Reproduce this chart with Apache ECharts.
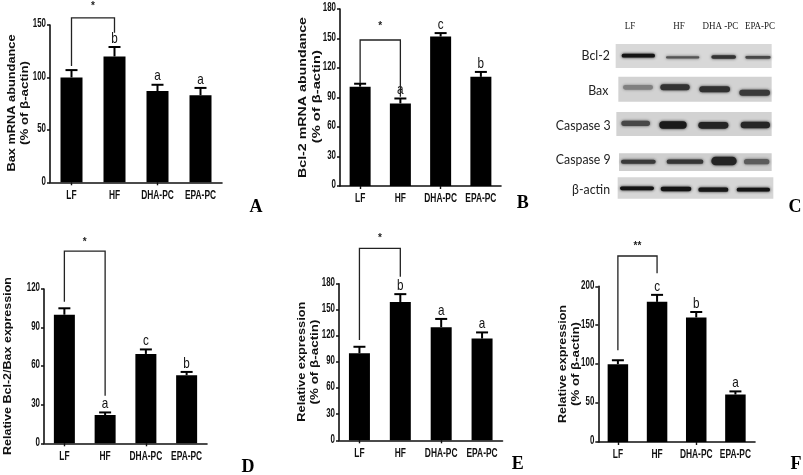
<!DOCTYPE html>
<html><head><meta charset="utf-8">
<script src="https://cdn.jsdelivr.net/npm/echarts@6/dist/echarts.min.js"></script>
<style>html,body{margin:0;padding:0;background:#fff}#c{width:803px;height:475px;filter:blur(0.6px)}</style>
</head><body><div id="c"></div>
<script>
var categories = ['LF','HF','DHA-PC','EPA-PC'];

var aValues = [100,120,87,83];
var aErrTop = [107,129,93,90];
var aLetters = ['','b','a','a'];
var bValues = [101,84,152,111];
var bErrTop = [104,89,155.5,116];
var bLetters = ['','a','c','b'];
var dValues = [100,22,69.5,53];
var dErrTop = [105,24,73,55.5];
var dLetters = ['','a','c','b'];
var eValues = [100,159,130,117];
var eErrTop = [107.5,168,139.5,124];
var eLetters = ['','b','a','a'];
var fValues = [100,180,160,61];
var fErrTop = [105,189,167,65];
var fLetters = ['','c','b','a'];

var aTicks = [0,50,100,150];
var bTicks = [0,30,60,90,120,150,180];
var dTicks = [0,30,60,90,120];
var eTicks = [0,30,60,90,120,150,180];
var fTicks = [0,50,100,150,200];

/* bracket: left end, top, right end, star height, star text */
var aBracket = [111,156.7,142.7,167.5,'*'];
var bBracket = [104.7,148.5,90.8,162.7,'*'];
var dBracket = [110,149.5,37,156,'*'];
var eBracket = [115.2,220.6,188,232.8,'*'];
var fBracket = [118,238.9,216.7,252,'**'];

/* y titles: text, x, centre y, length */
var yTitles = [
 ['Bax mRNA abundance',12,103,137],['(% of β-actin)',25,103,84],
 ['Bcl-2 mRNA abundance',303,97.5,161],['(% of β-actin)',316.7,96.7,93],
 ['Relative Bcl-2/Bax expression',8,366,178],
 ['Relative expression',301.7,361.7,120],['(% of β-actin)',315,362,85],
 ['Relative expression',563,364,118],['(% of β-actin)',575.7,364,84]
];

/* western blot: picture read in 789x675 units */
var blotLanes = ['LF','HF','DHA -PC','EPA-PC'];
var blotLaneX = [270,417,541,660];
var blotRows = ['Bcl-2','Bax','Caspase 3','Caspase 9','β-actin'];
var blotRowLabelX = [210,205,212,212,210];
var blotRowLabelY = [167,270,375,477,567];
/* x1,x2,y1,y2,grey */
var blotPanels = [
 [227,695,132,204,'#d8d8d8'],
 [235,695,230,305,'#d2d2d2'],
 [229,695,336,408,'#d2d2d2'],
 [237,695,460,513,'#cecece'],
 [233,700,532,596,'#d6d6d6']
];
/* centre x, centre y, width, thickness, colour */
var blotBands = [
 [295,167,100,11,'#141414'],[428,172,100,7,'#555555'],[551,171,74,11,'#333333'],[654,172,76,8,'#484848'],
 [294,262,90,14,'#808080'],[405,262,88,18,'#333333'],[524,268,92,18,'#303030'],[644,278,92,18,'#3a3a3a'],
 [287,370,86,16,'#484848'],[399,375,82,22,'#1a1a1a'],[520,376,90,20,'#242424'],[646,375,88,20,'#262626'],
 [295,485,104,12,'#383838'],[435,485,110,13,'#363636'],[552,483,76,26,'#242424'],[650,485,76,16,'#5c5c5c'],
 [291,565,102,11,'#141414'],[408,567,92,13,'#141414'],[520,569,90,13,'#181818'],[640,569,100,11,'#141414']
];

/* panel letters in 803x475 picture */
var panelLetters = [['A',256,207],['B',522.7,203],['C',795,207],['D',248,467],['E',517.7,464],['F',796,464]];

var SANS = '"Liberation Sans",Arial,sans-serif';
var TITLE_FONT = 'bold 10.5px '+SANS;
var grids=[],xAxes=[],yAxes=[],series=[];

function txt(x,y,text,font,scale,align,vAlign,fill){
  return {type:'text',x:x,y:y,scaleX:scale,
    style:{text:text,x:0,y:0,align:align,verticalAlign:vAlign,font:font,fill:fill||'#111'}};
}

function panel(box,values,errTop,letters,ticks,bracket,barW){
  var i=grids.length;
  var maxV=ticks[ticks.length-1];
  grids.push({left:box[0],top:box[1],width:box[2],height:box[3],containLabel:false});
  xAxes.push({type:'category',gridIndex:i,data:categories,
    axisLine:{show:true,lineStyle:{color:'#111',width:1.6}},
    axisTick:{show:true,alignWithLabel:true,length:3,lineStyle:{color:'#111',width:1.4}},
    axisLabel:{show:false}});
  yAxes.push({type:'value',gridIndex:i,min:0,max:maxV,interval:ticks[1],splitLine:{show:false},
    axisLine:{show:true,lineStyle:{color:'#111',width:1.6}},
    axisTick:{show:true,length:3,lineStyle:{color:'#111',width:1.5}},
    axisLabel:{show:false}});
  series.push({type:'bar',xAxisIndex:i,yAxisIndex:i,data:values,barWidth:barW,
    itemStyle:{color:'#000'},silent:true});
  /* condensed category labels */
  series.push({type:'custom',xAxisIndex:i,yAxisIndex:i,silent:true,clip:false,
    data:categories.map(function(c,k){return [k,0];}),
    renderItem:function(p,api){
      var k=api.value(0),c=api.coord([k,0]);
      return txt(c[0],c[1]+13,categories[k],'bold 12px '+SANS,0.7,'center','middle');
    }});
  /* condensed tick labels */
  series.push({type:'custom',xAxisIndex:i,yAxisIndex:i,silent:true,clip:false,
    data:ticks.map(function(t){return [0,t];}),
    renderItem:function(p,api){
      var t=api.value(1),c=api.coord([0,t]);
      return txt(p.coordSys.x-4,c[1]-1,String(t),'bold 12px '+SANS,0.66,'right','middle');
    }});
  /* error bars and letters */
  series.push({type:'custom',xAxisIndex:i,yAxisIndex:i,silent:true,clip:false,
    data:values.map(function(v,k){return [k,v,errTop[k]];}),
    renderItem:function(p,api){
      var k=api.value(0),lo=api.coord([k,api.value(1)]),hi=api.coord([k,api.value(2)]);
      return {type:'group',children:[
        {type:'line',shape:{x1:lo[0],y1:lo[1],x2:hi[0],y2:hi[1]},style:{stroke:'#000',lineWidth:2}},
        {type:'line',shape:{x1:hi[0]-6,y1:hi[1],x2:hi[0]+6,y2:hi[1]},style:{stroke:'#000',lineWidth:2}},
        txt(hi[0],hi[1]-1,letters[k],'15px '+SANS,0.78,'center','bottom')
      ]};
    }});
  /* significance bracket */
  series.push({type:'custom',xAxisIndex:i,yAxisIndex:i,silent:true,clip:false,data:[[0,1]],
    renderItem:function(p,api){
      var l0=api.coord([0,bracket[0]]),t0=api.coord([0,bracket[1]]),
          t1=api.coord([1,bracket[1]]),r1=api.coord([1,bracket[2]]),
          st=api.coord([0,bracket[3]]);
      return {type:'group',children:[
        {type:'polyline',shape:{points:[l0,t0,t1,r1]},style:{stroke:'#222',lineWidth:1.3,fill:null}},
        txt((t0[0]+t1[0])/2,st[1],bracket[4],'bold 10px '+SANS,1,'center','middle','#222')
      ]};
    }});
}

panel([50,25,172,157.3],aValues,aErrTop,aLetters,aTicks,aBracket,22);
panel([340,9,161,177],bValues,bErrTop,bLetters,bTicks,bBracket,21);
panel([44,289,163,154.3],dValues,dErrTop,dLetters,dTicks,dBracket,21);
panel([339,283.7,163.5,156.6],eValues,eErrTop,eLetters,eTicks,eBracket,21);
panel([598.3,286.3,156.7,155.7],fValues,fErrTop,fLetters,fTicks,fBracket,20.5);

/* blot panel */
var bi=grids.length;
grids.push({left:540,top:0,width:263,height:225});
xAxes.push({type:'value',gridIndex:bi,min:0,max:789,show:false});
yAxes.push({type:'value',gridIndex:bi,min:0,max:675,inverse:true,show:false});
series.push({type:'custom',xAxisIndex:bi,yAxisIndex:bi,silent:true,clip:false,z:1,data:blotPanels.map(function(p,k){return [p[0],p[1],p[2],p[3],k];}),
  renderItem:function(p,api){
    var a=api.coord([api.value(0),api.value(2)]),b=api.coord([api.value(1),api.value(3)]);
    return {type:'rect',shape:{x:a[0],y:a[1],width:b[0]-a[0],height:b[1]-a[1]},style:{fill:blotPanels[api.value(4)][4]}};
  }});
series.push({type:'custom',xAxisIndex:bi,yAxisIndex:bi,silent:true,clip:false,z:2,data:blotBands.map(function(b,k){return [b[0],b[1],b[2],b[3],k];}),
  renderItem:function(p,api){
    var c=api.coord([api.value(0),api.value(1)]);
    var col=blotBands[api.value(4)][4];
    var w=api.value(2)/3,h=api.value(3)/3;
    return {type:'rect',shape:{x:c[0]-w/2,y:c[1]-h/2,width:w,height:h,r:h/2},
      style:{fill:col,shadowBlur:3,shadowColor:col}};
  }});
series.push({type:'custom',xAxisIndex:bi,yAxisIndex:bi,silent:true,clip:false,z:3,data:blotRows.map(function(r,k){return [blotRowLabelX[k],blotRowLabelY[k],k];}),
  renderItem:function(p,api){
    var c=api.coord([api.value(0),api.value(1)]);
    return txt(c[0],c[1],blotRows[api.value(2)],'14px Lato,sans-serif',0.88,'right','middle','#222');
  }});
series.push({type:'custom',xAxisIndex:bi,yAxisIndex:bi,silent:true,clip:false,z:3,data:blotLanes.map(function(r,k){return [blotLaneX[k],78,k];}),
  renderItem:function(p,api){
    var c=api.coord([api.value(0),api.value(1)]);
    return txt(c[0],c[1],blotLanes[api.value(2)],'10px "Liberation Serif",serif',0.9,'center','middle','#222');
  }});

var measure=document.createElement('canvas').getContext('2d');
measure.font=TITLE_FONT;
var graphics=panelLetters.map(function(l){return {type:'text',x:l[1],y:l[2],style:{text:l[0],align:'center',verticalAlign:'middle',font:'bold 18px "Liberation Serif",serif',fill:'#000'}};});
yTitles.forEach(function(t){
  graphics.push({type:'text',x:t[1],y:t[2],rotation:Math.PI/2,scaleX:t[3]/measure.measureText(t[0]).width,
    style:{text:t[0],x:0,y:0,align:'center',verticalAlign:'middle',font:TITLE_FONT,fill:'#111'}});
});

var chart=echarts.init(document.getElementById('c'),null,{renderer:'canvas'});
chart.setOption({animation:false,backgroundColor:'#fff',grid:grids,xAxis:xAxes,yAxis:yAxes,series:series,graphic:graphics});
</script></body></html>
